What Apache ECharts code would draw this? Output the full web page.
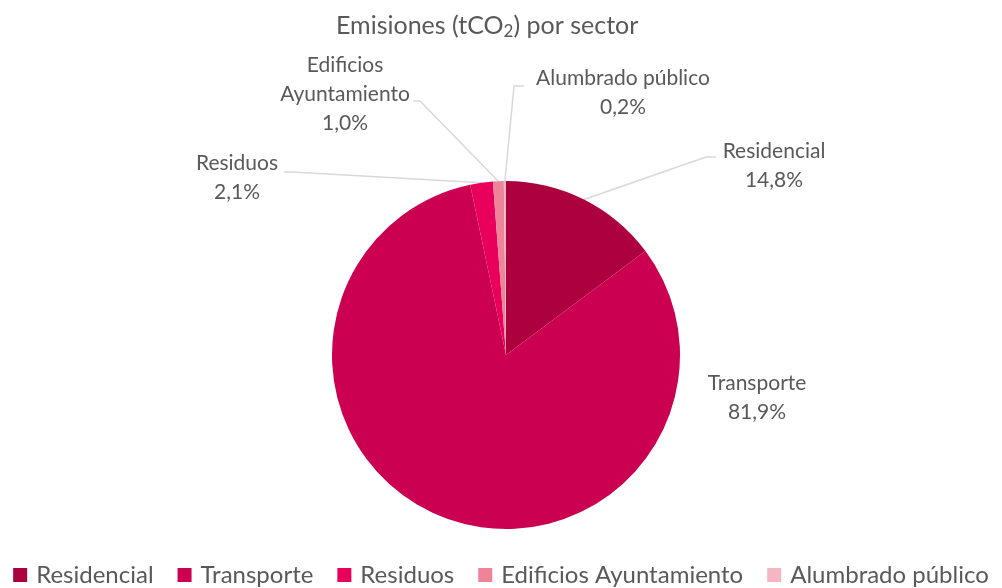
<!DOCTYPE html>
<html>
<head>
<meta charset="utf-8">
<script src="https://cdn.jsdelivr.net/npm/echarts@6/dist/echarts.min.js"></script>
<style>
  html, body { margin: 0; padding: 0; background: #fff; }
  #chart { width: 1002px; height: 588px; }
</style>
</head>
<body>
<div id="chart"></div>
<script>
const sectores = ['Residencial', 'Transporte', 'Residuos', 'Edificios Ayuntamiento', 'Alumbrado público']
const porcentajes = [14.8, 81.9, 2.1, 1.0, 0.2]
const colores = ['#AD003F', '#CC0050', '#E8005B', '#EE8497', '#F4B6C2']

// where each label sits (text centre) and the bend of its leader line
const etiquetas = [
  { x: 774, y: 166, bend: [706, 157], end: [716, 157] },
  { x: 757, y: 398 },
  { x: 237, y: 178, bend: [292, 172], end: [284, 172] },
  { x: 345, y: 94, bend: [420, 101], end: [413, 101] },
  { x: 623, y: 93, bend: [514, 86], end: [524, 86] }
]

const font = 'Lato, "Noto Sans", sans-serif'
const myChart = echarts.init(document.getElementById('chart'))
myChart.setOption({
  animation: false,
  title: {
    text: 'Emisiones (tCO{sub|2}) por sector',
    left: 331,
    top: 7,
    textStyle: {
      fontFamily: font,
      fontSize: 25,
      fontWeight: 'normal',
      color: '#595959',
      rich: {
        sub: { fontSize: 17, fontFamily: font, color: '#595959', padding: [11, 0, 0, 0] }
      }
    }
  },
  legend: {
    bottom: -4,
    left: 'center',
    itemWidth: 14,
    itemHeight: 14,
    itemGap: 24,
    icon: 'rect',
    textStyle: { fontFamily: font, fontSize: 24, color: '#595959', padding: [0, 0, 0, 4] },
    data: sectores
  },
  series: [
    {
      type: 'pie',
      center: [506, 355],
      radius: 174,
      startAngle: 90,
      clockwise: true,
      data: sectores.map((s, i) => ({ name: s, value: porcentajes[i], itemStyle: { color: colores[i] } })),
      label: {
        fontFamily: font,
        fontSize: 21,
        lineHeight: 29,
        color: '#595959',
        align: 'center',
        formatter: p => {
          const name = p.dataIndex === 3 ? 'Edificios\nAyuntamiento' : p.name
          return name + '\n' + porcentajes[p.dataIndex].toFixed(1).replace('.', ',') + '%'
        }
      },
      labelLine: {
        show: true,
        lineStyle: { color: '#D9D9D9', width: 1.5 }
      },
      labelLayout: params => {
        const e = etiquetas[params.dataIndex]
        const out = { x: e.x, y: e.y, align: 'center', verticalAlign: 'middle' }
        if (e.bend && params.labelLinePoints) {
          out.labelLinePoints = [params.labelLinePoints[0], e.bend, e.end]
        } else {
          out.labelLinePoints = [[0, 0], [0, 0], [0, 0]]
        }
        return out
      }
    }
  ]
})
</script>
</body>
</html>
